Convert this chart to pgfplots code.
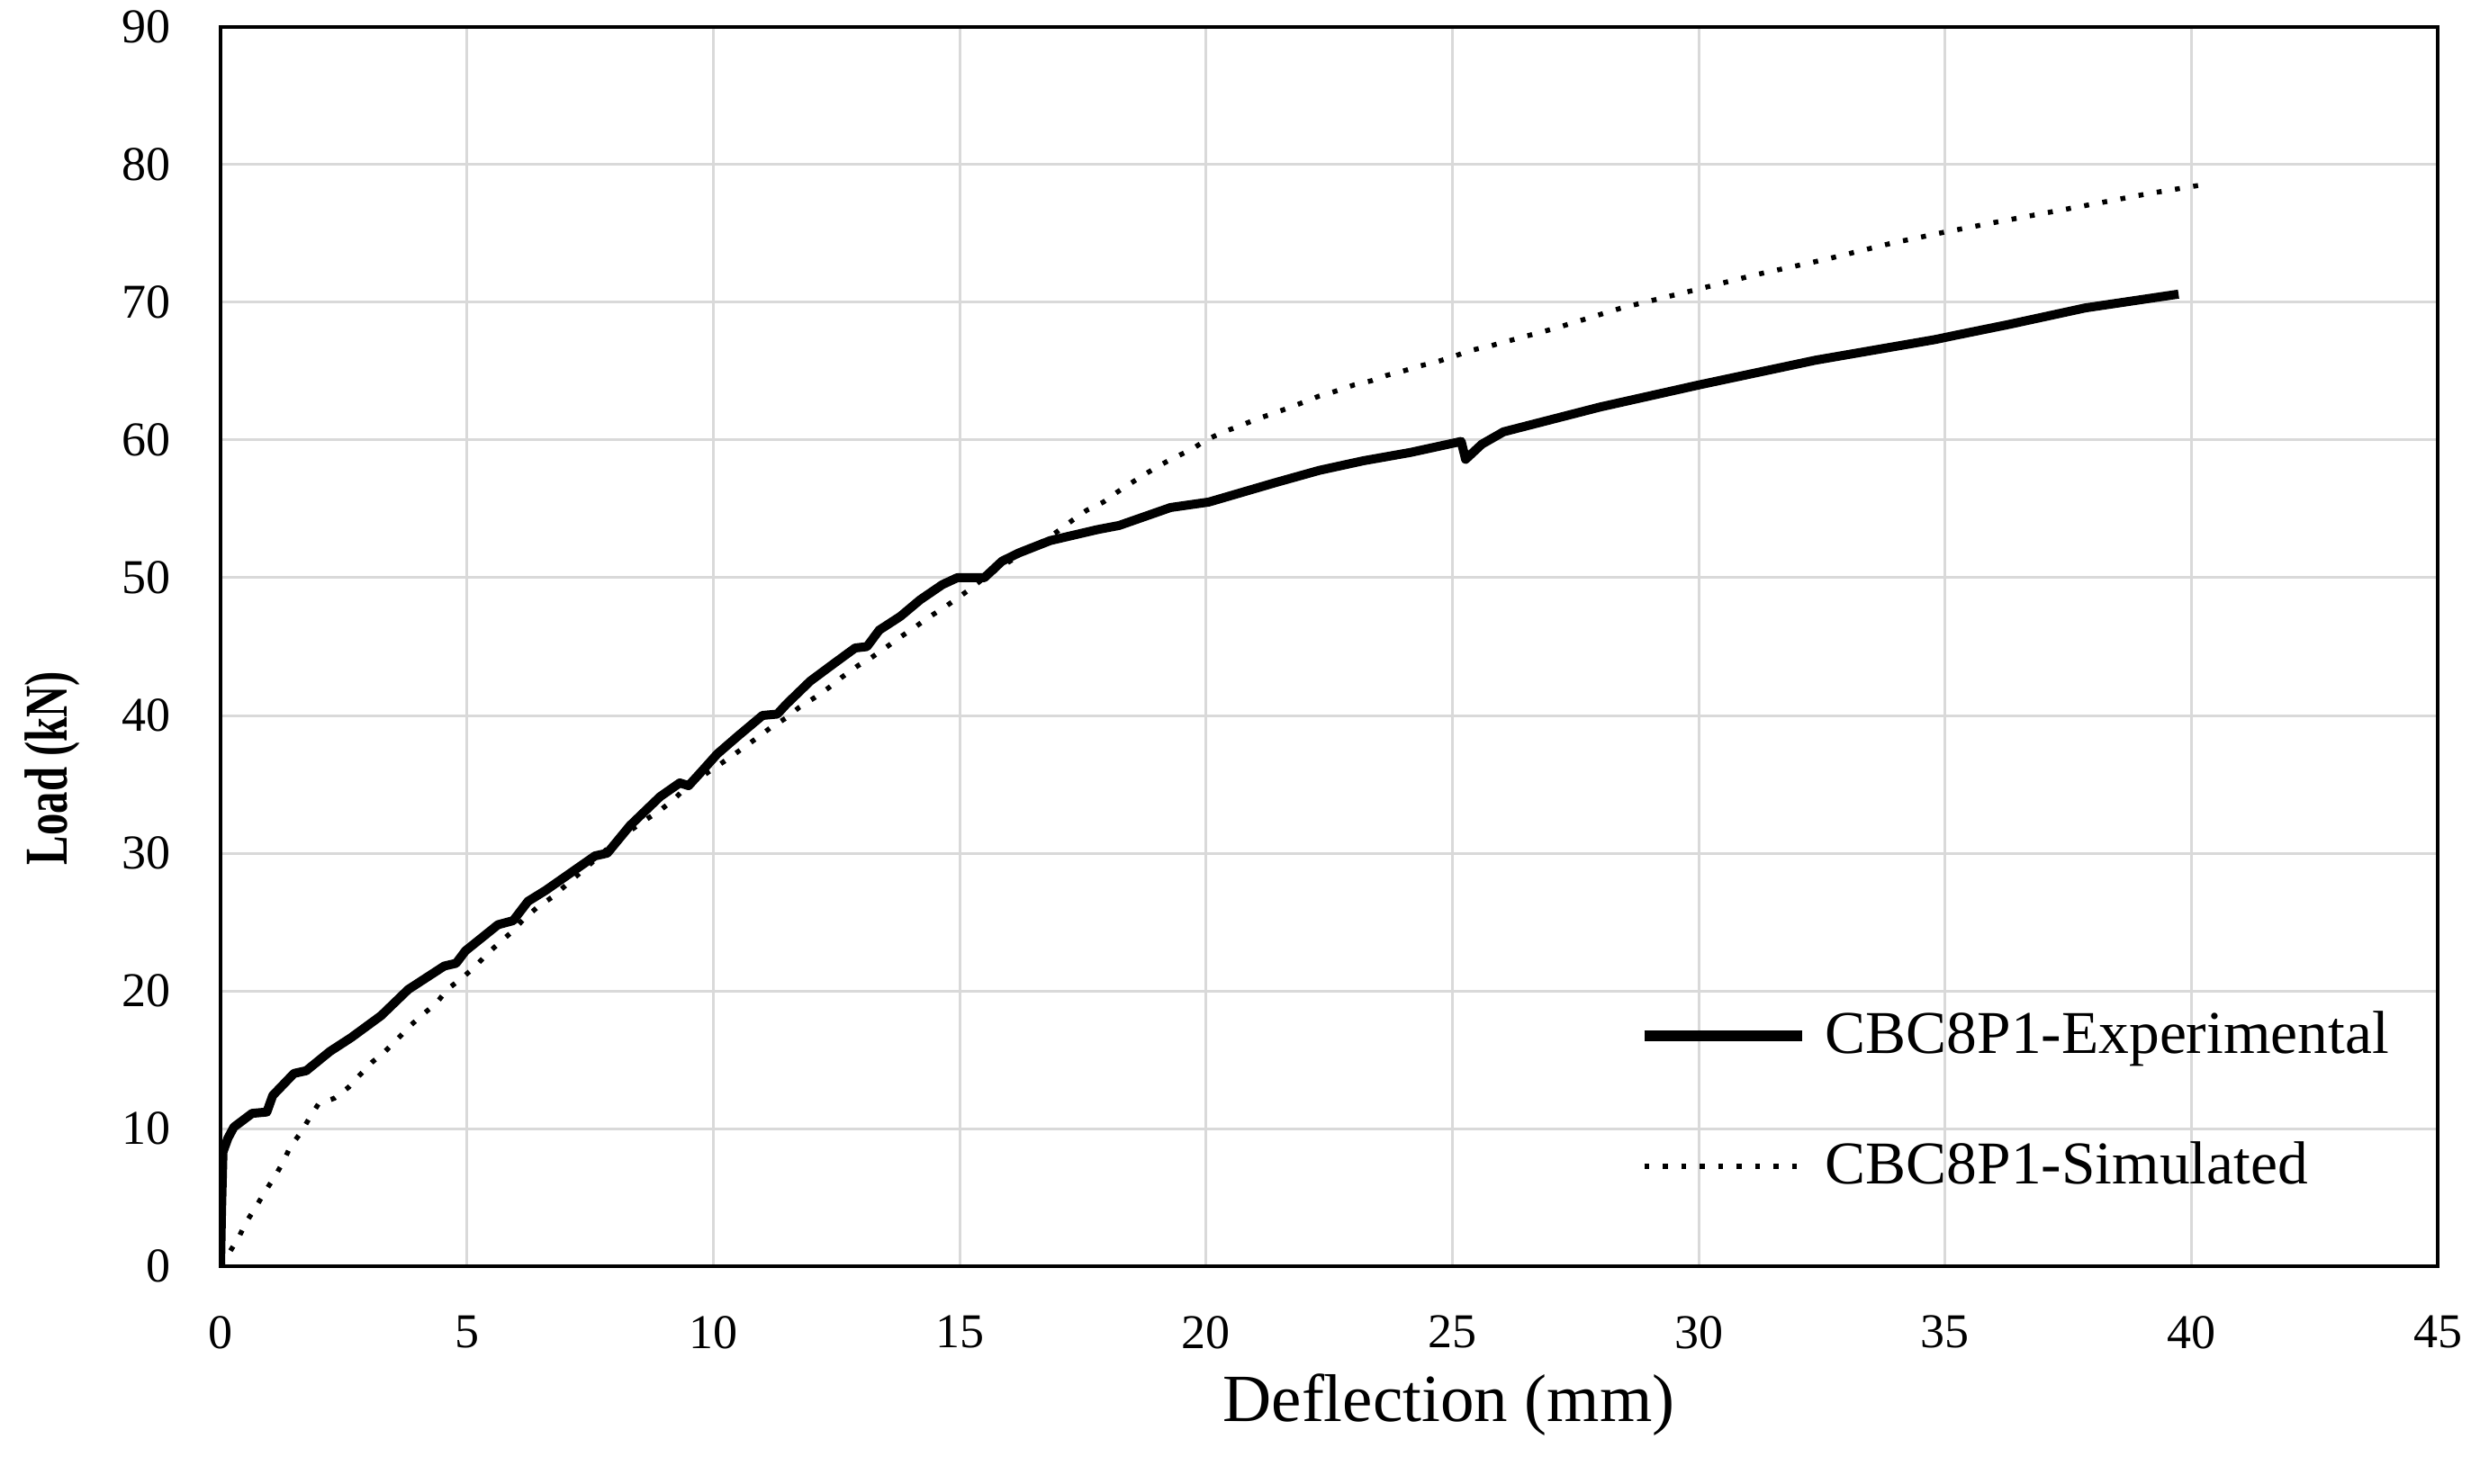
\documentclass[border=0pt]{standalone}
\usepackage{fontspec}
\setmainfont{Liberation Serif}
\usepackage{pgfplots}
\usepackage{pgfplotstable}
\pgfplotsset{compat=1.18}
\definecolor{gridgray}{RGB}{217,217,217}

\pgfplotstableread{
x y
0 0
0.02 4
0.05 8.3
0.15 9.3
0.27 10.1
0.64 11.1
0.94 11.2
1.06 12.4
1.49 14.0
1.74 14.2
2.22 15.6
2.65 16.6
3.26 18.2
3.81 20.1
4.54 21.8
4.78 22.0
4.97 22.9
5.63 24.8
5.94 25.1
6.24 26.5
6.6 27.3
7.2 28.8
7.6 29.8
7.85 30.0
8.31 32.0
8.92 34.1
9.32 35.1
9.5 34.9
9.78 36.0
10.08 37.2
10.5 38.5
11.0 40.0
11.3 40.1
11.48 40.8
11.97 42.5
12.46 43.8
12.88 44.9
13.12 45.0
13.37 46.2
13.8 47.2
14.2 48.4
14.65 49.5
14.95 50.0
15.5 50.0
15.86 51.2
16.2 51.8
16.84 52.7
17.8 53.5
18.24 53.8
19.28 55.1
20.06 55.5
21.4 56.9
22.3 57.8
23.2 58.5
24.15 59.1
25.18 59.9
25.27 58.6
25.6 59.7
26.04 60.6
28.0 62.4
30.0 64.0
32.37 65.8
34.8 67.3
35.2 67.6
36.3 68.4
37.85 69.6
39.74 70.6
}\exptable

\pgfplotstableread{
x y
0 0
0.18 1.0
0.37 2.1
0.52 3.2
0.7 4.2
0.9 5.4
1.1 6.5
1.26 7.5
1.42 8.7
1.63 9.7
1.81 10.8
1.99 11.8
2.31 12.2
2.6 13.0
2.83 13.9
3.07 14.8
3.34 15.6
3.59 16.5
3.86 17.5
4.11 18.3
4.38 19.1
4.6 20.1
4.89 20.9
5.15 21.7
5.39 22.6
5.66 23.5
5.92 24.3
6.15 25.2
6.44 26.1
6.73 26.8
7.5 29.2
8.0 30.8
8.34 31.7
8.62 32.4
8.92 33.1
9.2 33.9
9.46 34.8
9.74 35.5
10.03 36.2
10.32 36.9
10.63 37.7
10.9 38.4
11.16 39.1
11.47 39.8
11.75 40.6
12.06 41.3
12.34 42.0
12.62 42.8
12.93 43.6
13.21 44.2
13.49 44.9
13.8 45.7
14.09 46.4
14.36 47.1
14.67 47.8
14.95 48.5
15.26 49.3
15.53 50.1
15.8 50.7
16.11 51.4
16.41 52.1
16.72 52.7
17.0 53.4
17.3 54.2
17.58 54.9
17.92 55.5
18.19 56.2
18.49 56.9
18.8 57.6
19.08 58.2
19.4 58.8
19.7 59.3
20.0 60.0
20.36 60.6
20.67 61.0
21.01 61.5
21.34 61.9
21.65 62.3
22.02 62.8
22.3 63.2
22.68 63.6
23.0 64.0
23.35 64.3
23.67 64.7
23.99 65.0
24.36 65.4
24.7 65.7
25.05 66.1
25.36 66.5
25.73 66.8
27.07 68.1
28.44 69.6
29.81 70.8
31.15 72.0
32.55 73.1
33.92 74.3
34.99 75.1
36.0 75.8
37.05 76.5
38.1 77.2
39.13 77.9
40.16 78.5
40.3 78.6
}\simtable

\begin{document}
\begin{tikzpicture}
\begin{axis}[
  scale only axis,
  width=492.6pt, height=275.4pt,
  at={(0,0)}, anchor=south west,
  xmin=0, xmax=45, ymin=0, ymax=90,
  xtick={0,5,...,45}, ytick={0,10,...,90},
  grid=major,
  major grid style={color=gridgray, line width=0.6pt},
  major tick length=0pt,
  axis line style={line width=0.9pt},
  /pgf/number format/assume math mode=true,
  ticklabel style={font=\fontsize{10.8}{12}\selectfont},
  xticklabel style={yshift=-7.5pt},
  yticklabel style={xshift=-7.5pt},
  xlabel={Deflection (mm)},
  ylabel={\scalebox{0.78}[1.08]{Load (kN)}},
  xlabel style={font=\fontsize{15}{18}\selectfont, at={(axis description cs:0.554,-0.1255)}, anchor=base},
  ylabel style={font=\fontsize{12.5}{15}\selectfont\bfseries, at={(axis description cs:-0.0759,0.402)}, anchor=center},
  legend style={at={(axis cs:28.77,18.6)}, anchor=north west, draw=none, fill=none,
    font=\fontsize{13.5}{16}\selectfont, row sep=18.2pt, inner sep=0pt,
    nodes={inner sep=0pt},
    /tikz/every odd column/.append style={column sep=4pt}},
  legend cell align=left,
  legend image code/.code={\draw[#1] (0pt,0pt) -- (35pt,0pt);},
]
\addplot[black, line width=2pt, line join=round, forget plot] table[x=x,y=y] {\exptable};
\addplot[black, line width=1.1pt, dash pattern=on 1.1pt off 3pt, forget plot] table[x=x,y=y] {\simtable};
\addlegendimage{black, line width=2.4pt}
\addlegendentry{CBC8P1-Experimental}
\addlegendimage{black, line width=1.1pt, dash pattern=on 1.1pt off 3pt}
\addlegendentry{CBC8P1-Simulated}
\end{axis}
\pgfresetboundingbox
\path (-49pt,-48.2pt) rectangle (502pt,281.4pt);
\end{tikzpicture}
\end{document}
